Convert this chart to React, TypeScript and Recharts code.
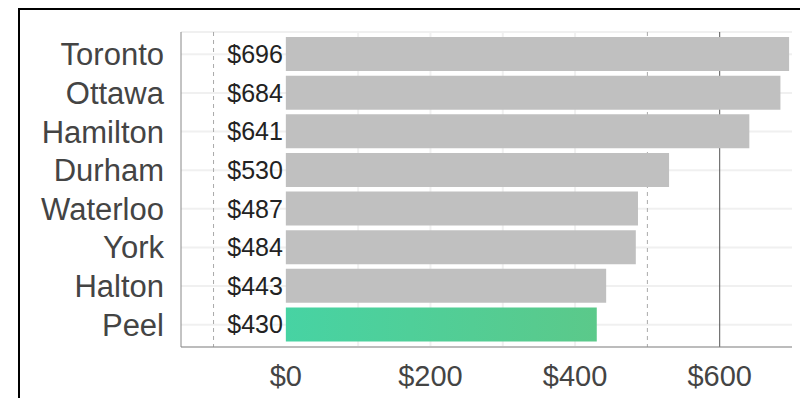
import { BarChart, Bar, XAxis, YAxis, CartesianGrid, LabelList, Cell } from "recharts";

const regions = ["Toronto", "Ottawa", "Hamilton", "Durham", "Waterloo", "York", "Halton", "Peel"];
const costs = [696, 684, 641, 530, 487, 484, 443, 430];
const xTicks = [0, 200, 400, 600];
const xDomain = [-145, 700];
const gridMarks = [100, 200, 300, 400];
const dashedMarks = [-100, 500];
const solidMarks = [600];
const highlight = "Peel";

const data = regions.map((region, i) => ({ region, cost: costs[i] }));

const font = "'Liberation Sans', Arial, sans-serif";

function ValueLabel(props: any) {
  const { x, y, height, value } = props;
  return (
    <text x={x - 3} y={y + height / 2} textAnchor="end" dominantBaseline="central" fontSize={25} fontFamily={font} fill="#222">
      ${value}
    </text>
  );
}

// vertical marker lines drawn as grids so they sit behind the bars
const markerGen = (values: number[]) => (props: any) => {
  const scale = props?.xAxis?.scale;
  const off = props?.offset;
  return values.map((v) => {
    if (typeof scale === "function") return scale(v);
    if (scale && typeof scale.map === "function") return scale.map(v);
    return off.left + ((v - xDomain[0]) / (xDomain[1] - xDomain[0])) * off.width;
  });
};

export default function App() {
  return (
    <div style={{ position: "absolute", left: 0, top: 0, width: 800, height: 398, overflow: "hidden", background: "#fff" }}>
      <div style={{ position: "absolute", left: 18, top: 8, width: 800, height: 400, border: "2px solid #000", boxSizing: "border-box" }} />
      <div style={{ position: "absolute", left: 0, top: 0 }}>
        <BarChart width={800} height={398} data={data} layout="vertical" margin={{ top: 32, right: 8, bottom: 6, left: 0 }} barSize={34}>
          <defs>
            <linearGradient id="peelFill" x1="0" y1="0" x2="1" y2="0">
              <stop offset="0%" stopColor="#47d3a3" />
              <stop offset="100%" stopColor="#5bc98a" />
            </linearGradient>
          </defs>
          <CartesianGrid stroke="#f0f0f0" strokeWidth={2} verticalCoordinatesGenerator={markerGen(gridMarks)} />
          <CartesianGrid horizontal={false} stroke="#aaa" strokeDasharray="4 4" verticalCoordinatesGenerator={markerGen(dashedMarks)} />
          <CartesianGrid horizontal={false} stroke="#555" verticalCoordinatesGenerator={markerGen(solidMarks)} />
          <XAxis type="number" domain={xDomain} ticks={xTicks} height={45} stroke="#888" tickLine={false} tickSize={8} tickMargin={10}
            tickFormatter={(v: number) => `$${v}`} tick={{ fontSize: 29, fill: "#444", fontFamily: font }} />
          <YAxis type="category" dataKey="region" width={181} stroke="#888" tickLine={false} tickSize={8} tickMargin={9} interval={0}
            padding={{ top: 3, bottom: 3 }} tick={{ fontSize: 31, fill: "#444", fontFamily: font }} />
          <Bar dataKey="cost" isAnimationActive={false}>
            {data.map((d) => (
              <Cell key={d.region} fill={d.region === highlight ? "url(#peelFill)" : "#c0c0c0"} />
            ))}
            <LabelList dataKey="cost" content={ValueLabel} />
          </Bar>
        </BarChart>
      </div>
    </div>
  );
}
